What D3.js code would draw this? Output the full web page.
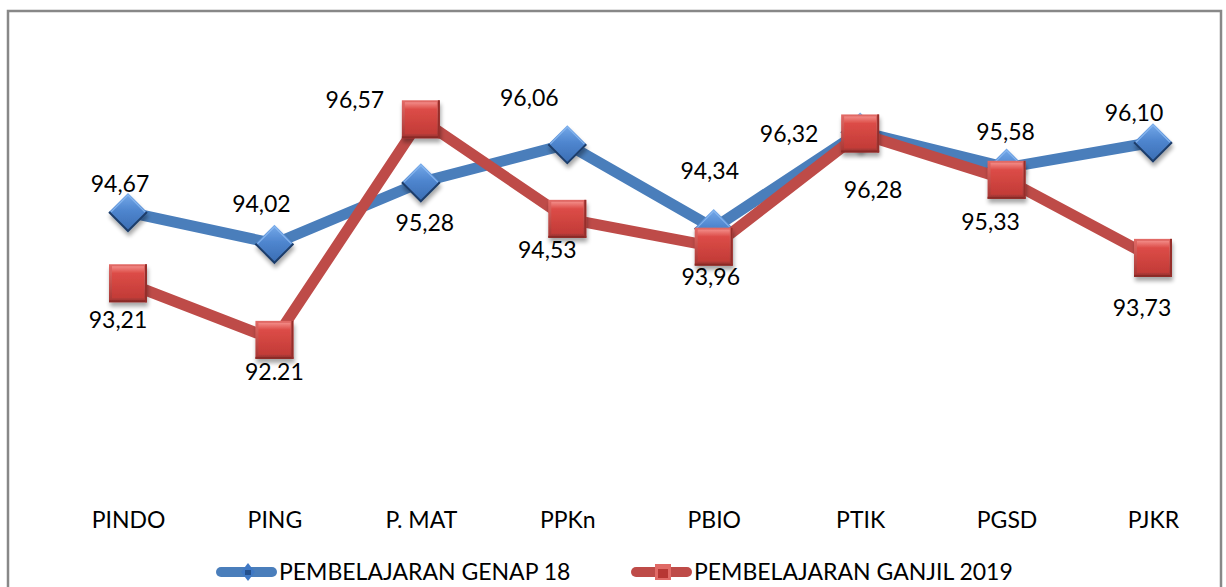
<!DOCTYPE html>
<html>
<head>
<meta charset="utf-8">
<script src="https://cdn.jsdelivr.net/npm/d3@7"></script>
<style>
  html, body { margin: 0; padding: 0; background: #fff; }
  svg { display: block; }
  text { font-family: Lato, "Noto Sans", sans-serif; fill: #000; }
</style>
</head>
<body>
<svg id="chart" width="1226" height="587"></svg>
<script>
// ---- data ----
const categories = ["PINDO", "PING", "P. MAT", "PPKn", "PBIO", "PTIK", "PGSD", "PJKR"];
const seriesNames = ["PEMBELAJARAN GENAP 18", "PEMBELAJARAN GANJIL 2019"];
const genapValues = [94.67, 94.02, 95.28, 96.06, 94.34, 96.32, 95.58, 96.10];
const ganjilValues = [93.21, 92.05, 96.57, 94.53, 93.96, 96.28, 95.33, 93.73];
const genapLabels = ["94,67", "94,02", "95,28", "96,06", "94,34", "96,32", "95,58", "96,10"];
const ganjilLabels = ["93,21", "92.21", "96,57", "94,53", "93,96", "96,28", "95,33", "93,73"];

// ---- layout (label nudges relative to marker centre) ----
const genapNudge = [[-8,-28],[-13,-40],[4,40],[-38,-46],[-4,-57],[-71,2],[-1,-36],[-19,-30]];
const ganjilNudge = [[-10,36],[0,32],[-66,-20],[-20,31],[-3,30],[13,56],[-16,42],[-11,50]];

const svg = d3.select("#chart");
const defs = svg.append("defs");

// gradients
const gBlue = defs.append("linearGradient").attr("id","gBlue").attr("x1",0).attr("y1",0).attr("x2",0).attr("y2",1);
gBlue.append("stop").attr("offset","0%").attr("stop-color","#76aaea");
gBlue.append("stop").attr("offset","45%").attr("stop-color","#4f86cf");
gBlue.append("stop").attr("offset","100%").attr("stop-color","#3a6db3");

const gRedOuter = defs.append("linearGradient").attr("id","gRedOuter").attr("x1",0).attr("y1",0).attr("x2",0).attr("y2",1);
gRedOuter.append("stop").attr("offset","0%").attr("stop-color","#e26a66");
gRedOuter.append("stop").attr("offset","100%").attr("stop-color","#a63532");
const gRedInner = defs.append("linearGradient").attr("id","gRedInner").attr("x1",0).attr("y1",0).attr("x2",0).attr("y2",1);
gRedInner.append("stop").attr("offset","0%").attr("stop-color","#f28a86");
gRedInner.append("stop").attr("offset","22%").attr("stop-color","#dc4c47");
gRedInner.append("stop").attr("offset","100%").attr("stop-color","#c23b37");

const shadow = defs.append("filter").attr("id","shadow").attr("x","-40%").attr("y","-40%").attr("width","180%").attr("height","180%");
shadow.append("feGaussianBlur").attr("in","SourceAlpha").attr("stdDeviation",2).attr("result","b");
shadow.append("feOffset").attr("in","b").attr("dx",1).attr("dy",4).attr("result","o");
shadow.append("feComponentTransfer").attr("in","o").attr("result","s")
  .append("feFuncA").attr("type","linear").attr("slope",0.35);
const mrg = shadow.append("feMerge");
mrg.append("feMergeNode").attr("in","s");
mrg.append("feMergeNode").attr("in","SourceGraphic");

// frame
svg.append("rect").attr("x",8).attr("y",11).attr("width",1213).attr("height",620)
  .attr("fill","none").attr("stroke","#888").attr("stroke-width",2.5);

// scales
const x = d3.scalePoint().domain(categories).range([128, 1153]);
const y = d3.scaleLinear().domain([90, 98]).range([439.9, 49.5]);

// category axis labels
const xAxis = d3.axisBottom(x).tickSize(0).tickPadding(0);
const axG = svg.append("g").attr("transform","translate(0,512)").call(xAxis);
axG.select(".domain").remove();
axG.selectAll("text").attr("font-size",23).attr("font-family","Lato, 'Noto Sans', sans-serif").attr("fill","#000").attr("dy","0.7em");

const line = d3.line().x((d,i) => x(categories[i])).y(d => y(d));

function diamond(g, size) {
  const h = size/2;
  g.append("path").attr("d",`M0,${-h}L${h},0L0,${h}L${-h},0Z`).attr("fill","url(#gBlue)");
  g.append("path").attr("d",`M${h},0L0,${h}L${-h},0`).attr("fill","none").attr("stroke","#1f3e6b").attr("stroke-width",2);
  g.append("path").attr("d",`M${-h+2},0L0,${-h+2}L${h-2},0`).attr("fill","none").attr("stroke","#8dbbf2").attr("stroke-width",1.2).attr("opacity",0.8);
}
function square(g, size) {
  const h = size/2;
  g.append("rect").attr("x",-h).attr("y",-h).attr("width",size).attr("height",size).attr("fill","url(#gRedOuter)");
  g.append("rect").attr("x",-h+3).attr("y",-h+2).attr("width",size-6).attr("height",size-6).attr("fill","url(#gRedInner)");
  g.append("rect").attr("x",-h).attr("y",h-2).attr("width",size).attr("height",2).attr("fill","#8a2a27");
  g.append("rect").attr("x",h-2).attr("y",-h).attr("width",2).attr("height",size).attr("fill","#962f2c");
}

function drawSeries(vals, color, markerFn, size) {
  svg.append("path").datum(vals).attr("d", line).attr("fill","none")
    .attr("stroke", color).attr("stroke-width", 11).attr("stroke-linejoin","round");
  svg.append("g").selectAll("g").data(vals).join("g")
    .attr("transform",(d,i) => `translate(${x(categories[i])},${y(d)})`)
    .attr("filter","url(#shadow)")
    .each(function(){ markerFn(d3.select(this), size); });
}

drawSeries(genapValues, "#4a7ebb", diamond, 38);
drawSeries(ganjilValues, "#be4b48", square, 38);

function drawLabels(vals, labels, nudge) {
  svg.append("g").selectAll("text").data(vals).join("text")
    .attr("x",(d,i) => x(categories[i]) + nudge[i][0])
    .attr("y",(d,i) => y(d) + nudge[i][1])
    .attr("dy","0.36em").attr("text-anchor","middle").attr("font-size",23)
    .text((d,i) => labels[i]);
}
drawLabels(genapValues, genapLabels, genapNudge);
drawLabels(ganjilValues, ganjilLabels, ganjilNudge);

// legend
const legend = [
  {name: seriesNames[0], color: "#4a7ebb", x0: 216, mk: "d"},
  {name: seriesNames[1], color: "#be4b48", x0: 631, mk: "s"}
];
const lg = svg.append("g").selectAll("g").data(legend).join("g")
  .attr("transform", d => `translate(${d.x0},572)`);
lg.append("line").attr("x1",5).attr("x2",56).attr("y1",0).attr("y2",0)
  .attr("stroke", d => d.color).attr("stroke-width",10).attr("stroke-linecap","round");
lg.each(function(d){
  const g = d3.select(this).append("g").attr("transform","translate(32,0)");
  if (d.mk === "d") {
    g.append("path").attr("d","M0,-9L7,0L0,9L-7,0Z").attr("fill","#3f78c4");
    g.append("rect").attr("x",-3).attr("y",-2).attr("width",6).attr("height",5).attr("fill","#24508c");
  } else {
    g.append("rect").attr("x",-8).attr("y",-8).attr("width",16).attr("height",16).attr("fill","#e06a66");
    g.append("rect").attr("x",-5).attr("y",-3).attr("width",10).attr("height",9).attr("fill","#b73734");
  }
});
lg.append("text").attr("x",63).attr("y",0).attr("dy","0.36em").attr("font-size",23).text(d => d.name);
</script>
</body>
</html>
